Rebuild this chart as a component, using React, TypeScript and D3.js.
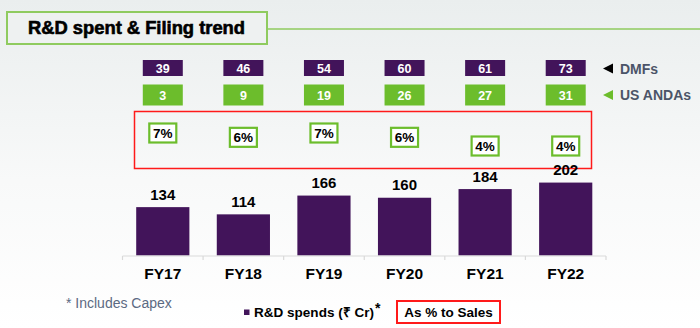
import React from "react";
import * as d3 from "d3";

const categories = ["FY17", "FY18", "FY19", "FY20", "FY21", "FY22"];
const rdSpends = [134, 114, 166, 160, 184, 202];
const dmfs = [39, 46, 54, 60, 61, 73];
const usAndas = [3, 9, 19, 26, 27, 31];
const pctSales = [7, 6, 7, 6, 4, 4];

const W = 700;
const H = 328;
const PURPLE = "#42145a";
const GREEN = "#6cbd2c";
const FONT = "'Liberation Sans', Arial, sans-serif";

export default function App() {
  const x = d3.scaleBand<string>().domain(categories).range([122.5, 606]).paddingInner(0.34).paddingOuter(0.17);
  const y = d3.scaleLinear().domain([0, 250]).range([255.5, 255.5 - 250 * 0.361]);
  const yPct = d3.scaleLinear().domain([4, 7]).range([146, 133]);
  const step = x.step();
  const x0 = 122.5;
  const cx = (c: string) => (x(c) as number) + x.bandwidth() / 2;

  return (
    <svg width={W} height={H} style={{ position: "absolute", left: 0, top: 0 }} fontFamily={FONT}>
      <defs>
        <linearGradient id="bg" x1="0" y1="0" x2="0" y2="1">
          <stop offset="0" stopColor="#eaeeee" />
          <stop offset="0.55" stopColor="#f8f9f9" />
          <stop offset="1" stopColor="#ffffff" />
        </linearGradient>
      </defs>
      <rect x={0} y={0} width={W} height={H} fill="url(#bg)" />

      {/* Title */}
      <line x1={267} x2={W} y1={29} y2={29} stroke="#8fcb5f" strokeWidth={1.5} />
      <rect x={7} y={12} width={260} height={32} fill="#eef1f1" stroke="#8fcb5f" strokeWidth={2} />
      <text x={28} y={34} fontSize={17.5} fontWeight="bold" fill="#000" stroke="#000" strokeWidth={0.6}
        textLength={217} lengthAdjust="spacingAndGlyphs">R&amp;D spent &amp; Filing trend</text>

      {/* DMF boxes */}
      {categories.map((c, i) => (
        <g key={"dmf" + c}>
          <rect x={cx(c) - 20} y={60} width={40} height={16} fill={PURPLE} />
          <text x={cx(c)} y={72.5} textAnchor="middle" fontSize={12.5} fontWeight="bold" fill="#fff">{dmfs[i]}</text>
        </g>
      ))}
      {/* ANDA boxes */}
      {categories.map((c, i) => (
        <g key={"anda" + c}>
          <rect x={cx(c) - 20} y={84.5} width={40} height={21} fill={GREEN} />
          <text x={cx(c)} y={100} textAnchor="middle" fontSize={12.5} fontWeight="bold" fill="#fff">{usAndas[i]}</text>
        </g>
      ))}

      {/* Right legend */}
      <path d="M603,68.5 L613,63.5 L613,73.5 Z" fill="#000" />
      <text x={620} y={73.5} fontSize={14} fontWeight="bold" fill="#4b5468">DMFs</text>
      <path d="M603,95 L613,90 L613,100 Z" fill={GREEN} />
      <text x={620} y={100} fontSize={14} fontWeight="bold" fill="#4b5468">US ANDAs</text>

      {/* Red box for % */}
      <rect x={134.5} y={111.5} width={457} height={57} fill="none" stroke="#ff1a1a" strokeWidth={1.5} />
      {categories.map((c, i) => (
        <g key={"pct" + c}>
          <rect x={cx(c) - 13.5} y={yPct(pctSales[i]) - 9.5} width={27} height={19} fill="#fff" stroke={GREEN} strokeWidth={2.2} />
          <text x={cx(c)} y={yPct(pctSales[i]) + 5} textAnchor="middle" fontSize={13.5} fontWeight="bold" fill="#000">{pctSales[i] + "%"}</text>
        </g>
      ))}

      {/* Bars */}
      {categories.map((c, i) => (
        <g key={"bar" + c}>
          <rect x={x(c)} y={y(rdSpends[i])} width={x.bandwidth()} height={y(0) - y(rdSpends[i])} fill={PURPLE} />
          <text x={cx(c)} y={y(rdSpends[i]) - 7.5} textAnchor="middle" fontSize={15} fontWeight="bold" fill="#000">{rdSpends[i]}</text>
        </g>
      ))}

      {/* Axis */}
      <line x1={x0} x2={x0 + step * categories.length} y1={256} y2={256} stroke="#d9d9d9" strokeWidth={1.2} />
      {d3.range(categories.length + 1).map((k) => (
        <line key={"t" + k} x1={x0 + k * step} x2={x0 + k * step} y1={256} y2={260} stroke="#d9d9d9" strokeWidth={1.2} />
      ))}
      {categories.map((c) => (
        <text key={"lab" + c} x={cx(c)} y={279} textAnchor="middle" fontSize={15.5} fontWeight="bold" fill="#000">{c}</text>
      ))}

      {/* Bottom */}
      <text x={66} y={308} fontSize={14} fill="#5b6a82">* Includes Capex</text>
      <rect x={244} y={309.5} width={5.5} height={5.5} fill={PURPLE} />
      <text x={254} y={316.5} fontSize={13.5} fontWeight="bold" fill="#000" textLength={120} lengthAdjust="spacingAndGlyphs">R&amp;D spends (₹ Cr)</text>
      <text x={375} y={313} fontSize={14} fontWeight="bold" fill="#000">*</text>
      <rect x={397} y={301} width={103} height={22} fill="#fff" stroke="#ff1a1a" strokeWidth={2} />
      <text x={448.5} y={316.5} textAnchor="middle" fontSize={13.5} fontWeight="bold" fill="#000">As % to Sales</text>
    </svg>
  );
}
